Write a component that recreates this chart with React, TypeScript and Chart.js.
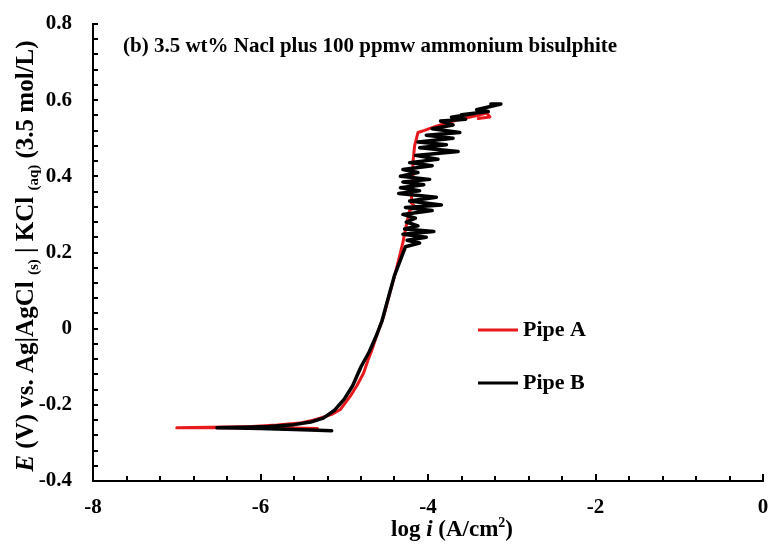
import React, { useEffect, useRef } from 'react';
import { Chart, registerables } from 'chart.js';

Chart.register(...registerables);

const titleText = '(b) 3.5 wt% Nacl plus 100 ppmw ammonium bisulphite';
const seriesNames = ['Pipe A', 'Pipe B'];
const seriesColors = ['#e8191c', '#000000'];

const xTickValues = [-8, -6, -4, -2, 0];
const yTickValues = [-0.4, -0.2, 0, 0.2, 0.4, 0.6, 0.8];
const xMinorStep = 0.4;
const yMinorStep = 0.04;

// Pipe A (red)
const pipeAx = [-5.32, -5.6, -6.0, -6.5, -7.0, -6.6, -6.1, -5.8, -5.53, -5.4, -5.29, -5.15, -5.05, -4.93, -4.85, -4.77, -4.72, -4.67, -4.6, -4.53, -4.46, -4.39, -4.34, -4.3, -4.26, -4.22, -4.15, -4.2, -4.19, -4.18, -4.16, -4.12, -4.05, -3.9, -3.72, -3.55, -3.4, -3.3, -3.26, -3.4];
const pipeAy = [-0.262, -0.261, -0.26, -0.26, -0.26, -0.259, -0.257, -0.253, -0.248, -0.242, -0.235, -0.225, -0.213, -0.178, -0.15, -0.117, -0.085, -0.056, -0.01, 0.032, 0.09, 0.146, 0.19, 0.226, 0.27, 0.31, 0.32, 0.33, 0.37, 0.436, 0.48, 0.515, 0.52, 0.532, 0.544, 0.553, 0.56, 0.566, 0.556, 0.552];

// Pipe B (black)
const pipeBx = [-5.15, -5.4, -5.7, -6.0, -6.3, -6.52, -6.2, -5.9, -5.6, -5.4, -5.25, -5.12, -5.0, -4.9, -4.8, -4.7, -4.62, -4.55, -4.5, -4.45, -4.4, -4.33,
  -4.27, -4.1, -4.25, -4.02, -4.3, -3.93, -4.28, -4.12, -4.26, -4.15, -4.3, -3.95, -4.27, -3.84, -4.22, -3.9, -4.35, -4.1, -4.33, -4.05, -4.3, -3.98, -4.33, -4.12, -4.3, -3.95, -4.22, -3.88, -4.15, -3.64, -4.1, -3.78, -4.12, -3.7, -4.02, -3.62, -3.95, -3.7, -3.85, -3.55, -3.72, -3.45, -3.6, -3.28, -3.42, -3.13, -3.25];
const pipeBy = [-0.268, -0.266, -0.264, -0.262, -0.261, -0.26, -0.259, -0.257, -0.252, -0.245, -0.235, -0.215, -0.185, -0.15, -0.1, -0.06, -0.02, 0.02, 0.06, 0.1, 0.14, 0.18,
  0.215, 0.225, 0.232, 0.24, 0.248, 0.255, 0.262, 0.27, 0.28, 0.29, 0.3, 0.31, 0.318, 0.325, 0.335, 0.345, 0.355, 0.362, 0.37, 0.378, 0.385, 0.392, 0.4, 0.41, 0.418, 0.428, 0.436, 0.445, 0.455, 0.465, 0.475, 0.483, 0.49, 0.5, 0.508, 0.515, 0.525, 0.535, 0.545, 0.55, 0.555, 0.565, 0.562, 0.57, 0.575, 0.59, 0.59];

const SERIF = "'Liberation Serif', 'Times New Roman', serif";

type Run = { t: string; size: number; italic?: boolean; dy?: number };

function drawRuns(ctx: CanvasRenderingContext2D, runs: Run[], cx: number, y: number) {
  let total = 0;
  const widths: number[] = [];
  for (const r of runs) {
    ctx.font = `${r.italic ? 'italic ' : ''}bold ${r.size}px ${SERIF}`;
    const w = ctx.measureText(r.t).width;
    widths.push(w);
    total += w;
  }
  let x = cx - total / 2;
  ctx.textAlign = 'left';
  ctx.textBaseline = 'alphabetic';
  runs.forEach((r, i) => {
    ctx.font = `${r.italic ? 'italic ' : ''}bold ${r.size}px ${SERIF}`;
    ctx.fillText(r.t, x, y + (r.dy || 0));
    x += widths[i];
  });
}

const decorPlugin = {
  id: 'decor',
  afterDraw(chart: any) {
    const { ctx, chartArea, scales } = chart;
    const xs = scales.x;
    const ys = scales.y;
    ctx.save();
    ctx.strokeStyle = '#000';
    ctx.fillStyle = '#000';
    ctx.lineWidth = 2;
    // inner tick marks
    const nx = Math.round((xs.max - xs.min) / xMinorStep);
    for (let k = 0; k <= nx; k++) {
      const v = xs.min + k * xMinorStep;
      const px = Math.round(xs.getPixelForValue(v));
      const major = k % 5 === 0;
      ctx.beginPath();
      ctx.moveTo(px, chartArea.bottom);
      ctx.lineTo(px, chartArea.bottom - (major ? 7 : 5));
      ctx.stroke();
    }
    const ny = Math.round((ys.max - ys.min) / yMinorStep);
    for (let k = 0; k <= ny; k++) {
      const v = ys.min + k * yMinorStep;
      const py = Math.round(ys.getPixelForValue(v));
      ctx.beginPath();
      ctx.moveTo(chartArea.left, py);
      ctx.lineTo(chartArea.left + 5, py);
      ctx.stroke();
    }

    // title inside plot
    ctx.font = `bold 21px ${SERIF}`;
    ctx.textAlign = 'left';
    ctx.textBaseline = 'middle';
    ctx.fillText(titleText, 123, 47);

    // legend
    const legendY = [330, 383];
    seriesNames.forEach((name, i) => {
      ctx.strokeStyle = seriesColors[i];
      ctx.lineWidth = 3;
      ctx.beginPath();
      ctx.moveTo(478, legendY[i]);
      ctx.lineTo(518, legendY[i]);
      ctx.stroke();
      ctx.fillStyle = '#000';
      ctx.font = `bold 22px ${SERIF}`;
      ctx.textAlign = 'left';
      ctx.textBaseline = 'middle';
      ctx.fillText(name, 523, legendY[i]);
    });

    // x axis title
    ctx.fillStyle = '#000';
    drawRuns(ctx, [
      { t: 'log ', size: 23 },
      { t: 'i', size: 23, italic: true },
      { t: ' (A/cm', size: 23 },
      { t: '2', size: 14, dy: -9 },
      { t: ')', size: 23 },
    ], 452, 536);

    // y axis title (rotated)
    ctx.save();
    ctx.translate(33, 256);
    ctx.rotate(-Math.PI / 2);
    drawRuns(ctx, [
      { t: 'E', size: 25, italic: true },
      { t: ' (V) vs. Ag|AgCl ', size: 25 },
      { t: '(s)', size: 15, dy: 5 },
      { t: ' | KCl ', size: 25 },
      { t: '(aq)', size: 15, dy: 5 },
      { t: ' (3.5 mol/L)', size: 25 },
    ], 0, 0);
    ctx.restore();

    ctx.restore();
  },
};

export default function App() {
  const ref = useRef<HTMLCanvasElement | null>(null);
  useEffect(() => {
    if (!ref.current) return;
    const chart = new Chart(ref.current, {
      type: 'scatter',
      data: {
        datasets: [
          {
            label: seriesNames[1],
            data: pipeBx.map((x, i) => ({ x, y: pipeBy[i] })),
            borderColor: seriesColors[1],
            backgroundColor: seriesColors[1],
            showLine: true,
            pointRadius: 0,
            borderWidth: 3.5,
            borderJoinStyle: 'round',
            borderCapStyle: 'round',
            tension: 0,
            order: 0,
          },
          {
            label: seriesNames[0],
            data: pipeAx.map((x, i) => ({ x, y: pipeAy[i] })),
            borderColor: seriesColors[0],
            backgroundColor: seriesColors[0],
            showLine: true,
            pointRadius: 0,
            borderWidth: 3,
            borderJoinStyle: 'round',
            borderCapStyle: 'round',
            tension: 0,
            order: 1,
          },
        ],
      },
      options: {
        animation: false,
        responsive: false,
        maintainAspectRatio: false,
        layout: { padding: { left: 0, right: 7, top: 24, bottom: 0 } },
        plugins: {
          legend: { display: false },
          tooltip: { enabled: false },
          title: { display: false },
        },
        scales: {
          x: {
            type: 'linear',
            min: -8,
            max: 0,
            afterBuildTicks: (s: any) => {
              s.ticks = xTickValues.map((v) => ({ value: v }));
            },
            afterFit: (s: any) => {
              s.height = 69;
              s.paddingLeft = 0;
              s.paddingRight = 0;
            },
            grid: { display: false, drawTicks: false },
            border: { display: true, color: '#000', width: 2 },
            ticks: {
              color: '#000',
              padding: 14,
              maxRotation: 0,
              font: { family: SERIF, weight: 'bold', size: 21 },
              callback: (v: any) => String(v),
            },
          },
          y: {
            type: 'linear',
            min: -0.4,
            max: 0.8,
            afterBuildTicks: (s: any) => {
              s.ticks = yTickValues.map((v) => ({ value: v }));
            },
            afterFit: (s: any) => {
              s.width = 93;
              s.paddingTop = 0;
              s.paddingBottom = 0;
            },
            grid: { display: false, drawTicks: false },
            border: { display: true, color: '#000', width: 2 },
            ticks: {
              color: '#000',
              padding: 21,
              font: { family: SERIF, weight: 'bold', size: 21 },
              callback: (v: any) => (Math.abs(v) < 1e-9 ? '0' : Number(v).toFixed(1)),
            },
          },
        },
      } as any,
      plugins: [decorPlugin],
    });
    return () => chart.destroy();
  }, []);
  return (
    <div style={{ position: 'fixed', left: 0, top: 0, width: 770, height: 550, background: '#fff' }}>
      <canvas ref={ref} width={770} height={550} style={{ width: 770, height: 550, display: 'block' }} />
    </div>
  );
}
